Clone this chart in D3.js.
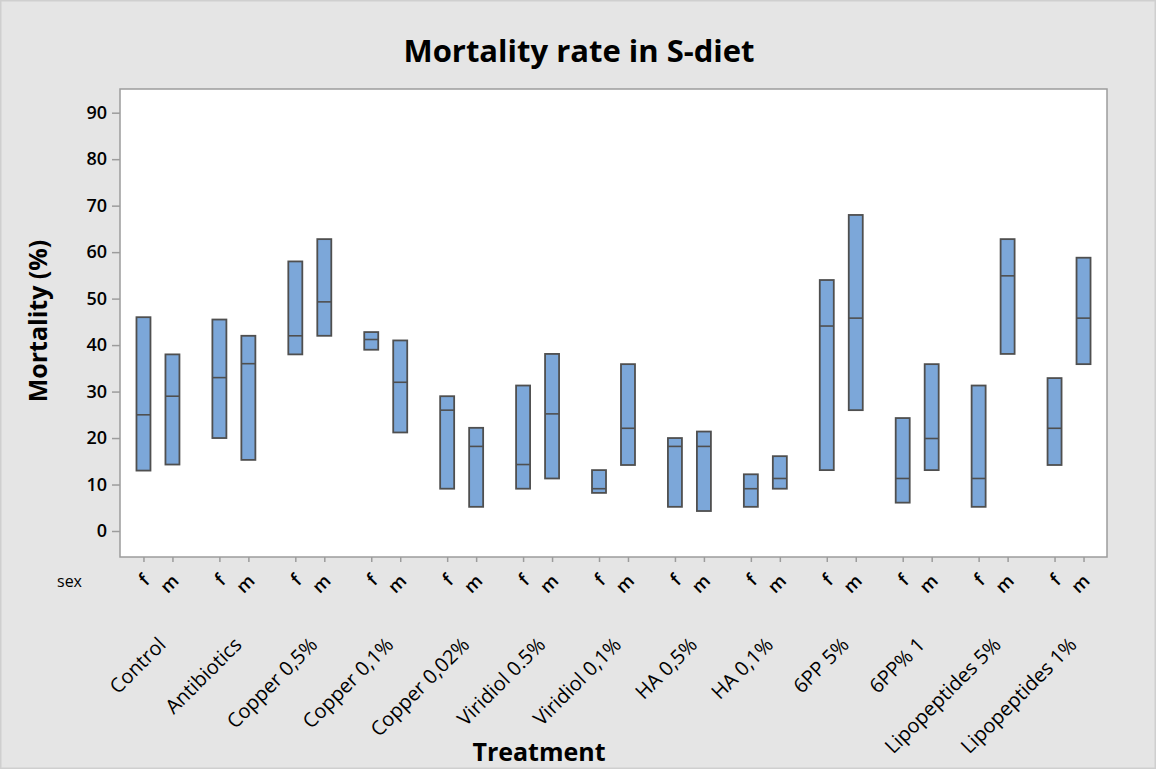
<!DOCTYPE html>
<html>
<head>
<meta charset="utf-8">
<script src="https://cdn.jsdelivr.net/npm/d3@7"></script>
<style>
  body { margin: 0; background: #e5e5e5; }
  text { font-family: "Open Sans", "Noto Sans", sans-serif; fill: #000; }
</style>
</head>
<body>
<div id="chart"></div>
<script>
const treatments = ["Control", "Antibiotics", "Copper 0,5%", "Copper 0,1%", "Copper 0,02%",
  "Viridiol 0.5%", "Viridiol 0,1%", "HA 0,5%", "HA 0,1%", "6PP 5%", "6PP% 1",
  "Lipopeptides 5%", "Lipopeptides 1%"];
const sexes = ["f", "m"];

// low / median / high per treatment, females
const fLow = [13, 20, 38, 39, 9.1, 9.1, 8.2, 5.2, 5.2, 13.1, 6.1, 5.2, 14.2];
const fMedian = [25, 33, 42, 41.2, 26, 14.3, 9.1, 18.2, 9.1, 44.1, 11.3, 11.3, 22.1];
const fHigh = [46, 45.5, 58, 42.8, 29, 31.3, 13.1, 20, 12.2, 54, 24.3, 31.3, 32.9];

// males
const mLow = [14.3, 15.3, 42, 21.2, 5.2, 11.3, 14.2, 4.3, 9.1, 26, 13.1, 38.1, 35.9];
const mMedian = [29, 36, 49.3, 32, 18.2, 25.2, 22.1, 18.2, 11.3, 45.8, 19.9, 54.9, 45.8];
const mHigh = [38, 42, 62.8, 41, 22.2, 38.1, 35.9, 21.4, 16.1, 68, 35.9, 62.8, 58.8];

const yTicks = [0, 10, 20, 30, 40, 50, 60, 70, 80, 90];

const width = 1156;
const height = 769;
const plot = { left: 120, top: 89, right: 1107, bottom: 557 };

const boxes = [];
treatments.forEach((t, i) => {
  boxes.push({ treatment: t, sex: "f", low: fLow[i], median: fMedian[i], high: fHigh[i] });
  boxes.push({ treatment: t, sex: "m", low: mLow[i], median: mMedian[i], high: mHigh[i] });
});

const svg = d3.select("#chart")
  .append("svg")
  .attr("width", width)
  .attr("height", height);

svg.append("rect")
  .attr("x", 0.75).attr("y", 0.75)
  .attr("width", width - 1.5).attr("height", height - 1.5)
  .attr("fill", "#e5e5e5")
  .attr("stroke", "#cfcfcf")
  .attr("stroke-width", 1.5);

svg.append("rect")
  .attr("x", plot.left).attr("y", plot.top)
  .attr("width", plot.right - plot.left)
  .attr("height", plot.bottom - plot.top)
  .attr("fill", "#fff")
  .attr("stroke", "#9c9c9c")
  .attr("stroke-width", 1.5);

const xOuter = d3.scaleBand()
  .domain(treatments)
  .range([plot.left, plot.right])
  .padding(0);

const xInner = d3.scalePoint()
  .domain(sexes)
  .range([0, xOuter.bandwidth()])
  .padding(0.81);

const y = d3.scaleLinear()
  .domain([0, 90])
  .range([531, 112.7]);

// y axis
const yAxis = svg.append("g")
  .attr("transform", `translate(${plot.left}, 0)`)
  .call(d3.axisLeft(y).tickValues(yTicks).tickSize(8).tickPadding(5));
yAxis.select(".domain").remove();
yAxis.selectAll(".tick line").attr("stroke", "#9c9c9c").attr("stroke-width", 1.5);
yAxis.selectAll(".tick text")
  .style("font-size", "18px")
  .style("font-weight", "600")
  .attr("fill", "#111");

// sex ticks under each treatment
treatments.forEach((t) => {
  const g = svg.append("g")
    .attr("transform", `translate(${xOuter(t)}, ${plot.bottom})`)
    .call(d3.axisBottom(xInner).tickSize(5).tickPadding(0));
  g.select(".domain").remove();
  g.selectAll(".tick line").attr("stroke", "#9c9c9c").attr("stroke-width", 1.5);
  g.selectAll(".tick text")
    .attr("y", 0).attr("dy", 0)
    .attr("text-anchor", "end")
    .attr("transform", "translate(7, 25) rotate(-45)")
    .style("font-size", "18px")
    .style("font-weight", "600")
    .attr("fill", "#111");
});

svg.append("text")
  .attr("x", 57).attr("y", 587)
  .style("font-size", "16px")
  .style("font-weight", "500")
  .text("sex");

// treatment labels
svg.append("g")
  .selectAll("text")
  .data(treatments)
  .enter()
  .append("text")
  .attr("text-anchor", "end")
  .attr("transform", (d) => `translate(${xOuter(d) + xOuter.bandwidth() / 2 + 9}, 646) rotate(-45)`)
  .style("font-size", "20px")
  .style("font-weight", "500")
  .text((d) => d);

// boxes
const boxWidth = 14;
const bx = (d) => xOuter(d.treatment) + xInner(d.sex);

const boxG = svg.append("g")
  .selectAll("g")
  .data(boxes)
  .enter()
  .append("g");

boxG.append("rect")
  .attr("x", (d) => bx(d) - boxWidth / 2)
  .attr("y", (d) => y(d.high))
  .attr("width", boxWidth)
  .attr("height", (d) => y(d.low) - y(d.high))
  .attr("fill", "#7ca7d9")
  .attr("stroke", "#4f4f4f")
  .attr("stroke-width", 1.8);

boxG.append("line")
  .attr("x1", (d) => bx(d) - boxWidth / 2)
  .attr("x2", (d) => bx(d) + boxWidth / 2)
  .attr("y1", (d) => y(d.median))
  .attr("y2", (d) => y(d.median))
  .attr("stroke", "#4f4f4f")
  .attr("stroke-width", 1.6);

// titles
svg.append("text")
  .attr("x", 579).attr("y", 62)
  .attr("text-anchor", "middle")
  .style("font-size", "31px")
  .style("font-weight", "700")
  .text("Mortality rate in S-diet");

svg.append("text")
  .attr("transform", "translate(47, 321) rotate(-90)")
  .attr("text-anchor", "middle")
  .style("font-size", "25px")
  .style("font-weight", "700")
  .text("Mortality (%)");

svg.append("text")
  .attr("x", 539).attr("y", 761)
  .attr("text-anchor", "middle")
  .style("font-size", "25px")
  .style("font-weight", "700")
  .text("Treatment");
</script>
</body>
</html>
